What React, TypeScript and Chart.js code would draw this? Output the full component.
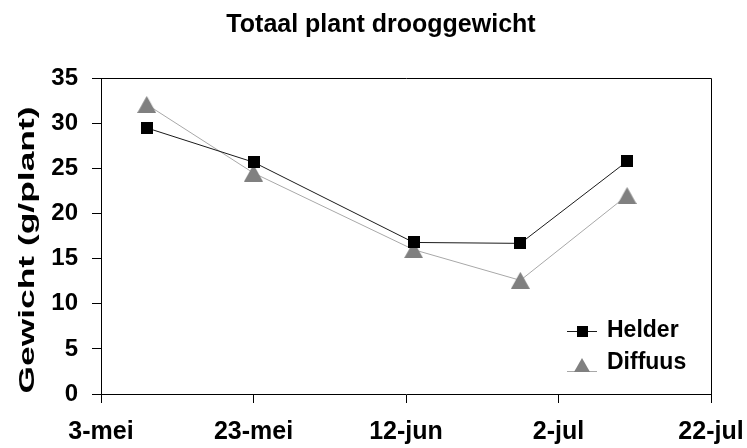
import React, { useEffect, useRef } from 'react';
import { Chart, registerables } from 'chart.js';

Chart.register(...registerables);

// ---- data ----
const chartTitle = 'Totaal plant drooggewicht';
const yAxisTitle = 'Gewicht (g/plant)';
const xTickLabels = ['3-mei', '23-mei', '12-jun', '2-jul', '22-jul'];
const xTickStepDays = 20;
const sampleDays = [6, 20, 41, 55, 69]; // days after 3-mei
const seriesNames = ['Helder', 'Diffuus'];
const helder = [29.5, 25.7, 16.8, 16.7, 25.8];
const diffuus = [32.1, 24.5, 16.0, 12.6, 22.0];
const yMin = 0;
const yMax = 35;
const yStep = 5;

const FONT = 'Liberation Sans, Arial, sans-serif';

function makeSquare(size: number, color: string): HTMLCanvasElement {
  const c = document.createElement('canvas');
  c.width = size;
  c.height = size;
  const g = c.getContext('2d')!;
  g.fillStyle = color;
  g.fillRect(0, 0, size, size);
  return c;
}

function makeTriangle(w: number, h: number, color: string): HTMLCanvasElement {
  const c = document.createElement('canvas');
  c.width = w;
  c.height = h;
  const g = c.getContext('2d')!;
  g.fillStyle = color;
  g.beginPath();
  g.moveTo(w / 2, 0);
  g.lineTo(w, h);
  g.lineTo(0, h);
  g.closePath();
  g.fill();
  return c;
}

export default function App() {
  const canvasRef = useRef<HTMLCanvasElement | null>(null);

  useEffect(() => {
    const canvas = canvasRef.current;
    if (!canvas) return;

    const helderColor = '#000000';
    const helderLine = '#1a1a1a';
    const diffuusColor = '#808080';
    const diffuusLine = '#a8a8a8';

    const squarePt = makeSquare(12, helderColor);
    const trianglePt = makeTriangle(19, 17, diffuusColor);
    const squareLeg = makeSquare(11, helderColor);
    const triangleLeg = makeTriangle(16, 14, diffuusColor);

    const decorPlugin = {
      id: 'decor',
      beforeDatasetsDraw(chart: any) {
        const { ctx, chartArea: ca } = chart;
        ctx.save();
        ctx.strokeStyle = '#000';
        ctx.lineWidth = 1;
        ctx.beginPath();
        ctx.moveTo(Math.round(ca.left) + 0.5, Math.round(ca.top) + 0.5);
        ctx.lineTo(Math.round(ca.right) + 0.5, Math.round(ca.top) + 0.5);
        ctx.lineTo(Math.round(ca.right) + 0.5, Math.round(ca.bottom) + 0.5);
        ctx.stroke();
        ctx.restore();
      },
      afterDraw(chart: any) {
        const { ctx, chartArea: ca } = chart;
        // y axis title (stretched text)
        ctx.save();
        ctx.font = `bold 22px ${FONT}`;
        const w = ctx.measureText(yAxisTitle).width;
        const targetLen = 287;
        ctx.translate(28, ca.bottom - 144);
        ctx.rotate(-Math.PI / 2);
        ctx.scale(targetLen / w, 1);
        ctx.fillStyle = '#000';
        ctx.textAlign = 'center';
        ctx.textBaseline = 'middle';
        ctx.fillText(yAxisTitle, 0, 0);
        ctx.restore();

        // legend
        const lineStart = ca.right - 144;
        const lineEnd = ca.right - 114;
        const markX = ca.right - 129;
        const textX = ca.right - 104;
        ctx.save();
        ctx.font = `bold 23px ${FONT}`;
        ctx.textAlign = 'left';
        ctx.textBaseline = 'middle';
        ctx.lineWidth = 1;

        // Helder row
        const r1 = ca.bottom - 63.5;
        ctx.strokeStyle = helderLine;
        ctx.beginPath();
        ctx.moveTo(lineStart, Math.round(r1) + 0.5);
        ctx.lineTo(lineEnd, Math.round(r1) + 0.5);
        ctx.stroke();
        ctx.drawImage(squareLeg, Math.round(markX - squareLeg.width / 2), Math.round(r1 - squareLeg.height / 2 + 1));
        ctx.fillStyle = '#000';
        ctx.fillText(seriesNames[0], textX, r1);

        // Diffuus row
        const r2 = ca.bottom - 31.5;
        ctx.strokeStyle = diffuusLine;
        ctx.beginPath();
        ctx.moveTo(lineStart, Math.round(r2 + 8) + 0.5);
        ctx.lineTo(lineEnd, Math.round(r2 + 8) + 0.5);
        ctx.stroke();
        ctx.drawImage(triangleLeg, Math.round(markX - triangleLeg.width / 2), Math.round(r2 - 4.5));
        ctx.fillStyle = '#000';
        ctx.fillText(seriesNames[1], textX, r2);
        ctx.restore();
      },
    };

    const chart = new Chart(canvas, {
      type: 'line',
      data: {
        datasets: [
          {
            label: seriesNames[0],
            data: sampleDays.map((d, i) => ({ x: d, y: helder[i] })),
            borderColor: helderLine,
            borderWidth: 1,
            pointStyle: squarePt as any,
            pointRadius: 7,
            backgroundColor: helderColor,
            tension: 0,
            order: 1,
          },
          {
            label: seriesNames[1],
            data: sampleDays.map((d, i) => ({ x: d, y: diffuus[i] })),
            borderColor: diffuusLine,
            borderWidth: 1,
            pointStyle: trianglePt as any,
            pointRadius: 10,
            backgroundColor: diffuusColor,
            tension: 0,
            order: 2,
          },
        ],
      },
      options: {
        responsive: false,
        animation: false,
        devicePixelRatio: 1,
        layout: { padding: { left: 51, right: 36, top: 0, bottom: 0 } },
        plugins: {
          legend: { display: false },
          tooltip: { enabled: false },
          title: {
            display: true,
            text: chartTitle,
            color: '#000',
            font: { family: FONT, size: 25, weight: 'bold' },
            padding: { top: 10.5, bottom: 37.8 },
          },
        },
        scales: {
          x: {
            type: 'linear',
            min: 0,
            max: xTickStepDays * (xTickLabels.length - 1),
            afterFit: (scale: any) => {
              scale.height = 54;
              scale.paddingLeft = 0;
              scale.paddingRight = 0;
            },
            grid: {
              display: true,
              drawOnChartArea: false,
              drawTicks: true,
              tickLength: 9,
              color: '#000',
            },
            border: { display: true, color: '#000', width: 1 },
            ticks: {
              stepSize: xTickStepDays,
              color: '#000',
              padding: 14.5,
              maxRotation: 0,
              autoSkip: false,
              font: { family: FONT, size: 25, weight: 'bold' },
              callback: (_v: any, i: number) => xTickLabels[i],
            },
          },
          y: {
            type: 'linear',
            min: yMin,
            max: yMax,
            afterFit: (scale: any) => {
              scale.width = 50;
            },
            grid: {
              display: true,
              drawOnChartArea: false,
              drawTicks: true,
              tickLength: 9,
              color: '#000',
            },
            border: { display: true, color: '#000', width: 1 },
            ticks: {
              stepSize: yStep,
              color: '#000',
              padding: 14,
              font: { family: FONT, size: 24, weight: 'bold' },
            },
          },
        },
      },
      plugins: [decorPlugin],
    });

    return () => chart.destroy();
  }, []);

  return (
    <div style={{ position: 'fixed', left: 0, top: 0, width: 747, height: 448, background: '#fff' }}>
      <canvas ref={canvasRef} width={747} height={448} style={{ display: 'block' }} />
    </div>
  );
}
